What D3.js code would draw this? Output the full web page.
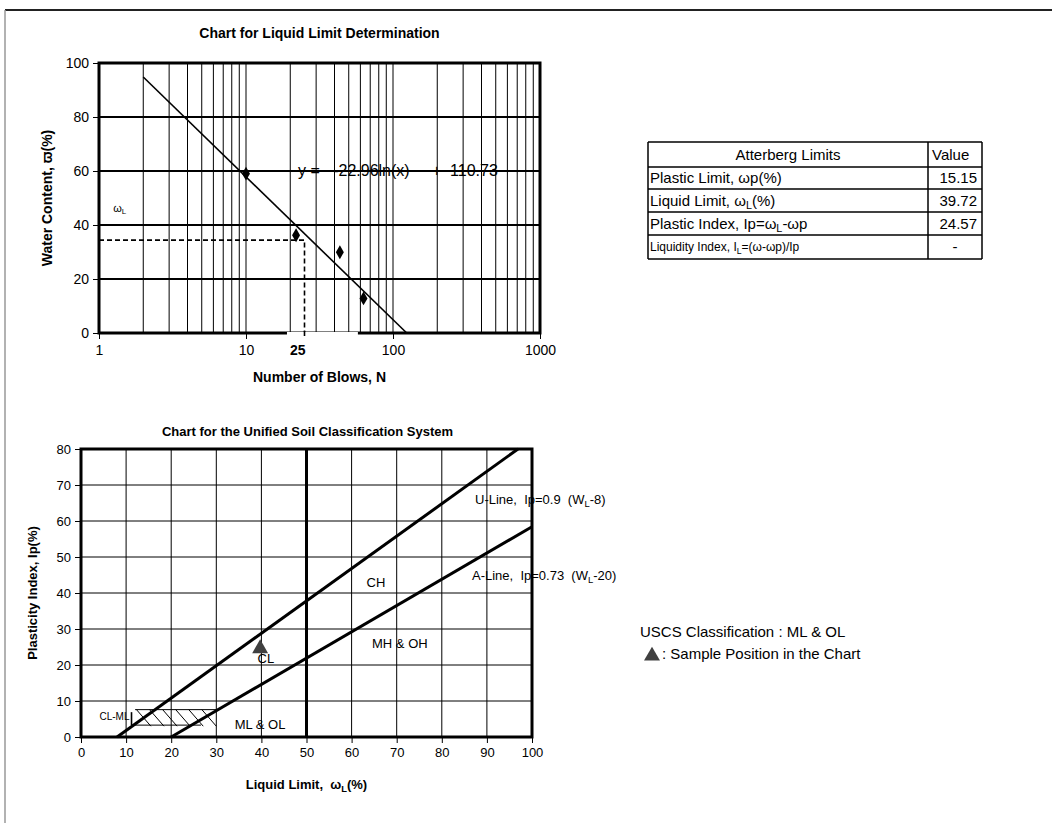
<!DOCTYPE html>
<html>
<head>
<meta charset="utf-8">
<script src="https://cdn.jsdelivr.net/npm/d3@7"></script>
<style>
  body { margin: 0; background: #fff; }
  svg { display: block; }
  text { font-family: Arial, "Liberation Sans", sans-serif; fill: #000; }
</style>
</head>
<body>
<div id="container"></div>
<script>
/* CONSTANTS AND GLOBALS */
const width = 1052
const height = 823

/* DATA */
// liquid limit test (top chart)
const blowCounts = [10, 21.9, 43.5, 63]
const waterContents = [59, 36.2, 29.9, 12.8]
const trendBlows = [2, 124]        // fitted line y = -22.96ln(x) + 110.73, end points
const trendWater = [94.8, 0]
const blowTicks = [1, 10, 100, 1000]
const waterTicks = [0, 20, 40, 60, 80, 100]
const readBlows = 25
const readWater = 34.4

// atterberg table
const limitLabels = ["Plastic Limit, ωp(%)", "Liquid Limit, ω_{L}(%)", "Plastic Index, Ip=ω_{L}-ωp", "Liquidity Index, I_{L}=(ω-ωp)/Ip"]
const limitValues = ["15.15", "39.72", "24.57", "-"]

// plasticity chart (bottom chart)
const wlTicks = [0, 10, 20, 30, 40, 50, 60, 70, 80, 90, 100]
const ipTicks = [0, 10, 20, 30, 40, 50, 60, 70, 80]
const uLineWL = [8, 96.9]
const uLineIp = [0, 80]
const aLineWL = [20, 100]
const aLineIp = [0, 58.4]
const sampleWL = [39.72]
const sampleIp = [24.57]
const zoneNames = ["CH", "CL", "MH & OH", "ML & OL"]
const zoneWL = [65.4, 41, 70.7, 39.7]
const zoneIp = [43, 22, 26, 3.7]
const clmlTopWL = [12, 30.6]
const clmlBotWL = [11.2, 26.6]
const clmlIp = [3.3, 7.6]
const hatchWL = [12.3, 15.2, 18.1, 21, 23.9, 26.8]

const svg = d3.select("#container")
  .append("svg")
  .attr("width", width)
  .attr("height", height)

// page frame
svg.append("line").attr("x1", 5).attr("x2", width).attr("y1", 10).attr("y2", 10)
  .attr("stroke", "#222").attr("stroke-width", 2)
svg.append("line").attr("x1", 5).attr("x2", 5).attr("y1", 10).attr("y2", height)
  .attr("stroke", "#999").attr("stroke-width", 1.5)

// text with _{sub} parts
function rich(sel, str, size) {
  const parts = str.split(/_\{(.*?)\}/)
  let shifted = false
  parts.forEach((p, i) => {
    if (!p) return
    const sub = i % 2 === 1
    const t = sel.append("tspan").text(p).attr("font-size", sub ? size * 0.72 : size)
    if (sub && !shifted) { t.attr("dy", size * 0.22); shifted = true }
    if (!sub && shifted) { t.attr("dy", -size * 0.22); shifted = false }
  })
  return sel
}

/* TOP CHART */
const topBox = { left: 99, right: 540, top: 63, bottom: 333 }

const xScale = d3.scaleLog()
  .domain([1, 1000])
  .range([topBox.left, topBox.right])

const yScale = d3.scaleLinear()
  .domain([0, 100])
  .range([topBox.bottom, topBox.top])

svg.append("text")
  .attr("x", (topBox.left + topBox.right) / 2).attr("y", 38)
  .attr("text-anchor", "middle").attr("font-weight", "bold").attr("font-size", 14)
  .text("Chart for Liquid Limit Determination")

// equation and wL label sit under the grid
svg.append("text")
  .attr("x", xScale(22.6)).attr("y", yScale(60) + 5)
  .attr("font-size", 16)
  .attr("xml:space", "preserve")
  .text("y =   -22.96ln(x)     +  110.73")

rich(svg.append("text").attr("x", xScale(1.25)).attr("y", yScale(45)).attr("font-size", 11), "ω_{L}", 11)

// grid
svg.append("g").selectAll("line")
  .data(xScale.ticks())
  .join("line")
  .attr("x1", d => xScale(d)).attr("x2", d => xScale(d))
  .attr("y1", topBox.top).attr("y2", topBox.bottom)
  .attr("stroke", "#000").attr("stroke-width", 1)

svg.append("g").selectAll("line")
  .data(waterTicks.slice(1, -1))
  .join("line")
  .attr("x1", topBox.left).attr("x2", topBox.right)
  .attr("y1", d => yScale(d)).attr("y2", d => yScale(d))
  .attr("stroke", "#000").attr("stroke-width", 2)

svg.append("rect")
  .attr("x", topBox.left).attr("y", topBox.top)
  .attr("width", topBox.right - topBox.left).attr("height", topBox.bottom - topBox.top)
  .attr("fill", "none").attr("stroke", "#000").attr("stroke-width", 3)

// axes
const yAxis = d3.axisLeft(yScale).tickValues(waterTicks).tickSize(5).tickPadding(4).tickSizeOuter(0)
svg.append("g")
  .attr("transform", `translate(${topBox.left - 1}, 0)`)
  .call(yAxis)
  .call(g => g.select(".domain").remove())
  .call(g => g.selectAll("text").attr("font-size", 14).attr("font-family", null))

const xAxis = d3.axisBottom(xScale).tickValues(blowTicks).tickFormat(d3.format("d")).tickSize(5).tickPadding(6).tickSizeOuter(0)
svg.append("g")
  .attr("transform", `translate(0, ${topBox.bottom + 1})`)
  .call(xAxis)
  .call(g => g.select(".domain").remove())
  .call(g => g.selectAll("text").attr("font-size", 14).attr("font-family", null))

// trend line
const line = d3.line()
  .x(d => xScale(d[0]))
  .y(d => yScale(d[1]))

svg.append("path")
  .datum(d3.zip(trendBlows, trendWater))
  .attr("fill", "none").attr("stroke", "#000").attr("stroke-width", 1.6)
  .attr("d", line)

// test points
svg.append("g").selectAll("path")
  .data(d3.zip(blowCounts, waterContents))
  .join("path")
  .attr("transform", d => `translate(${xScale(d[0])}, ${yScale(d[1])})`)
  .attr("d", d3.symbol(d3.symbolDiamond, 55))
  .attr("fill", "#000")

// reading at 25 blows
svg.append("path")
  .datum([[1, readWater], [readBlows, readWater], [readBlows, 0]])
  .attr("fill", "none").attr("stroke", "#000").attr("stroke-width", 1.6)
  .attr("stroke-dasharray", "5,3")
  .attr("d", line)

// "25" label box covers part of the axis
svg.append("rect")
  .attr("x", xScale(19)).attr("y", topBox.bottom - 1)
  .attr("width", xScale(57.7) - xScale(19)).attr("height", 5)
  .attr("fill", "#fff")
svg.append("line")
  .attr("x1", xScale(readBlows)).attr("x2", xScale(readBlows))
  .attr("y1", topBox.bottom - 2).attr("y2", topBox.bottom + 3)
  .attr("stroke", "#000").attr("stroke-width", 1.6).attr("stroke-dasharray", "5,3")
svg.append("text")
  .attr("x", xScale(readBlows) + 1).attr("y", topBox.bottom + 22)
  .attr("text-anchor", "end").attr("font-weight", "bold").attr("font-size", 14)
  .text(readBlows)

svg.append("text")
  .attr("x", (topBox.left + topBox.right) / 2).attr("y", 382)
  .attr("text-anchor", "middle").attr("font-weight", "bold").attr("font-size", 14)
  .text("Number of Blows, N")

svg.append("text")
  .attr("transform", `translate(52, ${(topBox.top + topBox.bottom) / 2}) rotate(-90)`)
  .attr("text-anchor", "middle").attr("font-weight", "bold").attr("font-size", 14)
  .text("Water Content,  ϖ(%)")

/* TABLE */
const tbl = { left: 648, right: 982, split: 928 }
const rowLines = [142, 167, 189, 212, 235, 259]

const tg = svg.append("g")
tg.selectAll("line.row")
  .data(rowLines)
  .join("line")
  .attr("x1", tbl.left).attr("x2", tbl.right)
  .attr("y1", d => d).attr("y2", d => d)
  .attr("stroke", "#000").attr("stroke-width", 1.5)
tg.selectAll("line.col")
  .data([tbl.left, tbl.split, tbl.right])
  .join("line")
  .attr("x1", d => d).attr("x2", d => d)
  .attr("y1", rowLines[0]).attr("y2", rowLines[rowLines.length - 1])
  .attr("stroke", "#000").attr("stroke-width", 1.5)

tg.append("text")
  .attr("x", (tbl.left + tbl.split) / 2).attr("y", (rowLines[0] + rowLines[1]) / 2 + 5)
  .attr("text-anchor", "middle").attr("font-size", 15)
  .text("Atterberg Limits")
tg.append("text")
  .attr("x", tbl.split + 4).attr("y", (rowLines[0] + rowLines[1]) / 2 + 5)
  .attr("font-size", 15)
  .text("Value")

limitLabels.forEach((lab, i) => {
  const size = i === 3 ? 12 : 15
  const cy = (rowLines[i + 1] + rowLines[i + 2]) / 2 + size * 0.35
  rich(tg.append("text").attr("x", tbl.left + 2).attr("y", cy).attr("font-size", size), lab, size)
  tg.append("text")
    .attr("x", limitValues[i] === "-" ? (tbl.split + tbl.right) / 2 : tbl.right - 5)
    .attr("y", (rowLines[i + 1] + rowLines[i + 2]) / 2 + 5)
    .attr("text-anchor", limitValues[i] === "-" ? "middle" : "end")
    .attr("font-size", 15)
    .text(limitValues[i])
})

/* BOTTOM CHART */
const botBox = { left: 81, right: 532, top: 449, bottom: 737 }

const wlScale = d3.scaleLinear()
  .domain([0, 100])
  .range([botBox.left, botBox.right])

const ipScale = d3.scaleLinear()
  .domain([0, 80])
  .range([botBox.bottom, botBox.top])

svg.append("text")
  .attr("x", (botBox.left + botBox.right) / 2 + 1).attr("y", 436)
  .attr("text-anchor", "middle").attr("font-weight", "bold").attr("font-size", 13)
  .text("Chart for the Unified Soil Classification System")

// line labels sit under the grid
svg.append("text")
  .attr("x", 475).attr("y", ipScale(66) + 5)
  .attr("font-size", 13)
  .attr("xml:space", "preserve")
  .call(s => rich(s, "U-Line,  Ip=0.9  (W_{L}-8)", 13))
svg.append("text")
  .attr("x", 472).attr("y", ipScale(45) + 5)
  .attr("font-size", 13)
  .attr("xml:space", "preserve")
  .call(s => rich(s, "A-Line,  Ip=0.73  (W_{L}-20)", 13))

svg.append("g").selectAll("line")
  .data(wlTicks.slice(1, -1))
  .join("line")
  .attr("x1", d => wlScale(d)).attr("x2", d => wlScale(d))
  .attr("y1", botBox.top).attr("y2", botBox.bottom)
  .attr("stroke", "#000").attr("stroke-width", d => d === 50 ? 3 : 1)

svg.append("g").selectAll("line")
  .data(ipTicks.slice(1, -1))
  .join("line")
  .attr("x1", botBox.left).attr("x2", botBox.right)
  .attr("y1", d => ipScale(d)).attr("y2", d => ipScale(d))
  .attr("stroke", "#000").attr("stroke-width", 1)

svg.append("rect")
  .attr("x", botBox.left).attr("y", botBox.top)
  .attr("width", botBox.right - botBox.left).attr("height", botBox.bottom - botBox.top)
  .attr("fill", "none").attr("stroke", "#000").attr("stroke-width", 3)

const ipAxis = d3.axisLeft(ipScale).tickValues(ipTicks).tickSize(5).tickPadding(4).tickSizeOuter(0)
svg.append("g")
  .attr("transform", `translate(${botBox.left - 1}, 0)`)
  .call(ipAxis)
  .call(g => g.select(".domain").remove())
  .call(g => g.selectAll("text").attr("font-size", 13).attr("font-family", null))

const wlAxis = d3.axisBottom(wlScale).tickValues(wlTicks).tickSize(5).tickPadding(5).tickSizeOuter(0)
svg.append("g")
  .attr("transform", `translate(0, ${botBox.bottom + 1})`)
  .call(wlAxis)
  .call(g => g.select(".domain").remove())
  .call(g => g.selectAll("text").attr("font-size", 13).attr("font-family", null))

// zone names
svg.append("g").selectAll("text")
  .data(zoneNames)
  .join("text")
  .attr("x", (d, i) => wlScale(zoneWL[i]))
  .attr("y", (d, i) => ipScale(zoneIp[i]) + 5)
  .attr("text-anchor", "middle").attr("font-size", 13)
  .text(d => d)

// CL-ML hatched band
const line2 = d3.line()
  .x(d => wlScale(d[0]))
  .y(d => ipScale(d[1]))
const hg = svg.append("g").attr("fill", "none").attr("stroke", "#000").attr("stroke-width", 1)
hg.append("path").attr("d", line2([[clmlTopWL[0], clmlIp[1]], [clmlTopWL[1], clmlIp[1]]]))
hg.append("path").attr("d", line2([[clmlBotWL[0], clmlIp[0]], [clmlBotWL[1], clmlIp[0]]]))
hg.append("path").attr("stroke-width", 1.6).attr("d", line2([[clmlBotWL[0], clmlIp[0]], [clmlBotWL[0], clmlIp[1] - 0.7]]))
hg.selectAll("path.hatch")
  .data(hatchWL)
  .join("path")
  .attr("class", "hatch")
  .attr("d", d => line2([[d, clmlIp[1]], [d + 3.2, clmlIp[0] - 0.3]]))
svg.append("text")
  .attr("x", wlScale(clmlBotWL[0]) - 2).attr("y", ipScale(5.5) + 3)
  .attr("text-anchor", "end").attr("font-size", 10)
  .text("CL-ML")

// U-line and A-line
svg.append("path")
  .datum(d3.zip(uLineWL, uLineIp))
  .attr("fill", "none").attr("stroke", "#000").attr("stroke-width", 3)
  .attr("d", line2)
svg.append("path")
  .datum(d3.zip(aLineWL, aLineIp))
  .attr("fill", "none").attr("stroke", "#000").attr("stroke-width", 3)
  .attr("d", line2)

// sample point
svg.append("g").selectAll("path")
  .data(d3.zip(sampleWL, sampleIp))
  .join("path")
  .attr("transform", d => `translate(${wlScale(d[0])}, ${ipScale(d[1])})`)
  .attr("d", d3.symbol(d3.symbolTriangle, 110))
  .attr("fill", "#404040")

svg.append("text")
  .attr("x", (botBox.left + botBox.right) / 2).attr("y", 789)
  .attr("text-anchor", "middle").attr("font-weight", "bold").attr("font-size", 13)
  .attr("xml:space", "preserve")
  .call(s => rich(s, "Liquid Limit,  ω_{L}(%)", 13))

svg.append("text")
  .attr("transform", `translate(37, ${(botBox.top + botBox.bottom) / 2}) rotate(-90)`)
  .attr("text-anchor", "middle").attr("font-weight", "bold").attr("font-size", 13)
  .text("Plasticity Index, Ip(%)")

// classification result
svg.append("text")
  .attr("x", 640).attr("y", 637)
  .attr("font-size", 15)
  .text("USCS Classification : ML & OL")
svg.append("path")
  .attr("transform", "translate(652, 656)")
  .attr("d", d3.symbol(d3.symbolTriangle, 110))
  .attr("fill", "#404040")
svg.append("text")
  .attr("x", 662).attr("y", 659)
  .attr("font-size", 15)
  .text(": Sample Position in the Chart")
</script>
</body>
</html>
